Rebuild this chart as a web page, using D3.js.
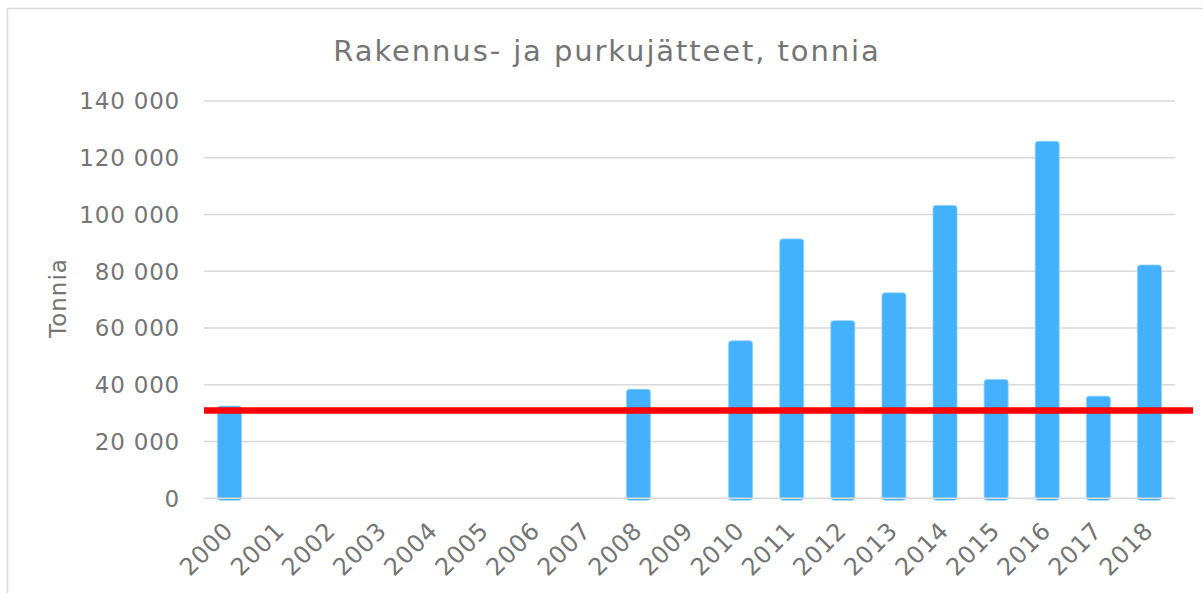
<!DOCTYPE html>
<html>
<head>
<meta charset="utf-8">
<script src="https://cdn.jsdelivr.net/npm/d3@7"></script>
<style>
  html, body { margin: 0; padding: 0; background: #fff; }
  svg { display: block; font-family: "DejaVu Sans", Verdana, sans-serif; }
</style>
</head>
<body>
<div id="chart"></div>
<script>
const years = ["2000","2001","2002","2003","2004","2005","2006","2007","2008","2009",
  "2010","2011","2012","2013","2014","2015","2016","2017","2018"];
const tonnes = [32500, null, null, null, null, null, null, null, 38400, null,
  55500, 91400, 62600, 72400, 103200, 41900, 125800, 36000, 82200];
const yTicks = [0, 20000, 40000, 60000, 80000, 100000, 120000, 140000];
const referenceLine = 30900;

const width = 1203, height = 593;
const margin = { top: 101, right: 28, bottom: 95, left: 204 };
const textColor = "#757575";

const svg = d3.select("#chart").append("svg")
  .attr("width", width)
  .attr("height", height);

// chart area border
svg.append("rect")
  .attr("x", 7.5).attr("y", 8.5)
  .attr("width", width).attr("height", height)
  .attr("fill", "none")
  .attr("stroke", "#d9d9d9")
  .attr("stroke-width", 1.5);

const x = d3.scaleBand()
  .domain(years)
  .range([margin.left, width - margin.right])
  .paddingInner(0.53)
  .paddingOuter(0.265);

const y = d3.scaleLinear()
  .domain([0, 140000])
  .range([498.3, margin.top]);

const fmt = d => d3.format(",")(d).replace(/,/g, " ");

// gridlines
svg.append("g")
  .selectAll("line")
  .data(yTicks.filter(d => d > 0))
  .join("line")
  .attr("x1", margin.left).attr("x2", width - margin.right)
  .attr("y1", d => y(d)).attr("y2", d => y(d))
  .attr("stroke", "#d9d9d9")
  .attr("stroke-width", 1.5);

// bars
const data = years.map((yr, i) => ({ year: yr, value: tonnes[i] })).filter(d => d.value != null);
svg.append("g")
  .selectAll("rect")
  .data(data)
  .join("rect")
  .attr("x", d => x(d.year))
  .attr("y", d => y(d.value))
  .attr("width", x.bandwidth())
  .attr("height", d => y(0) - y(d.value) + 2)
  .attr("rx", 3)
  .attr("fill", "#44b1ff")
  .attr("stroke", "#8fd0ff")
  .attr("stroke-width", 0.8);

// zero line on top
svg.append("line")
  .attr("x1", margin.left).attr("x2", width - margin.right)
  .attr("y1", y(0)).attr("y2", y(0))
  .attr("stroke", "#d9d9d9")
  .attr("stroke-width", 1.5);

// red reference line
svg.append("line")
  .attr("x1", margin.left).attr("x2", width - margin.right + 18)
  .attr("y1", y(referenceLine)).attr("y2", y(referenceLine))
  .attr("stroke", "#ff0000")
  .attr("stroke-width", 6.5);

// y axis labels
svg.append("g")
  .selectAll("text")
  .data(yTicks)
  .join("text")
  .attr("x", 180)
  .attr("y", d => y(d))
  .attr("dy", "0.36em")
  .attr("text-anchor", "end")
  .attr("font-size", "23px")
  .attr("letter-spacing", "0.8px")
  .attr("fill", textColor)
  .text(fmt);

// x axis labels
svg.append("g")
  .selectAll("text")
  .data(years)
  .join("text")
  .attr("transform", d => `translate(${x(d) + x.bandwidth() / 2 + 5},${y(0) + 34}) rotate(-45)`)
  .attr("text-anchor", "end")
  .attr("font-size", "24px")
  .attr("letter-spacing", "0.6px")
  .attr("fill", textColor)
  .text(d => d);

// y axis title
svg.append("text")
  .attr("transform", "translate(66,298) rotate(-90)")
  .attr("text-anchor", "middle")
  .attr("font-size", "23px")
  .attr("letter-spacing", "1px")
  .attr("fill", textColor)
  .text("Tonnia");

// title
svg.append("text")
  .attr("x", 607)
  .attr("y", 61)
  .attr("text-anchor", "middle")
  .attr("font-size", "29px")
  .attr("letter-spacing", "1.9px")
  .attr("fill", textColor)
  .text("Rakennus- ja purkujätteet, tonnia");
</script>
</body>
</html>
